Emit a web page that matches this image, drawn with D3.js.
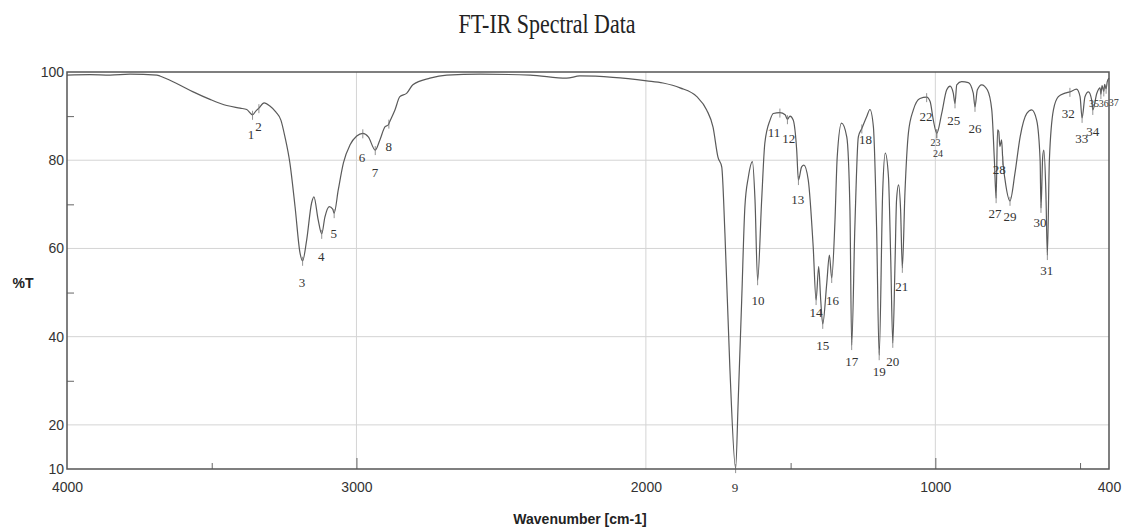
<!DOCTYPE html>
<html>
<head>
<meta charset="utf-8">
<script src="https://cdn.jsdelivr.net/npm/d3@7"></script>
<style>
  body { margin: 0; background: #fff; }
  svg { display: block; }
</style>
</head>
<body>
<div id="chart"></div>
<script>
// spectrum trace (wavenumber cm-1, %T)
const wavenumbers = [4000, 3921, 3851, 3782, 3689, 3679, 3621, 3564, 3506, 3448, 3402, 3379, 3359, 3347, 3337, 3319, 3299, 3278, 3261, 3247, 3230, 3212, 3195, 3186, 3172, 3155, 3147, 3132, 3120, 3109, 3094, 3082, 3077, 3063, 3045, 3022, 2999, 2978, 2959, 2935, 2919, 2901, 2890, 2886, 2867, 2850, 2826, 2805, 2746, 2688, 2573, 2400, 2274, 2228, 2114, 1997, 1941, 1882, 1824, 1790, 1768, 1751, 1738, 1727, 1710, 1690, 1681, 1669, 1658, 1646, 1632, 1623, 1614, 1600, 1589, 1571, 1560, 1537, 1519, 1511, 1502, 1491, 1479, 1473, 1462, 1454, 1439, 1422, 1412, 1403, 1396, 1389, 1375, 1366, 1358, 1347, 1339, 1324, 1306, 1295, 1289, 1278, 1266, 1254, 1237, 1226, 1214, 1203, 1194, 1182, 1173, 1162, 1154, 1147, 1139, 1134, 1127, 1120, 1114, 1105, 1093, 1076, 1053, 1030, 1018, 1007, 995, 978, 961, 949, 938, 932, 926, 909, 886, 869, 863, 855, 840, 820, 805, 796, 790, 785, 781, 777, 771, 767, 759, 742, 725, 707, 684, 667, 650, 638, 635, 629, 625, 618, 613, 606, 592, 575, 552, 535, 512, 500, 493, 483, 471, 460, 456, 442, 431, 428, 424, 418, 415, 410, 406, 400];
const transmittance = [99.3, 99.4, 99.3, 99.5, 99.3, 99.1, 97.4, 95.5, 93.8, 92.4, 91.8, 91.5, 90.3, 91.2, 91.8, 93.0, 92.3, 90.9, 89.1, 85.3, 79.4, 69.4, 59.0, 57.2, 61.9, 70.3, 71.7, 66.4, 63.3, 67.1, 69.5, 68.9, 68.0, 73.2, 79.4, 83.5, 85.5, 86.1, 85.3, 82.3, 84.6, 87.6, 88.0, 88.6, 91.4, 94.4, 95.2, 97.1, 98.6, 99.3, 99.5, 99.3, 98.6, 99.1, 98.8, 98.0, 97.5, 96.4, 94.4, 91.4, 87.5, 80.7, 78.5, 63.5, 33.1, 10.2, 25.6, 48.3, 69.4, 76.2, 79.7, 71.0, 52.8, 71.0, 83.9, 89.1, 90.6, 90.8, 90.3, 89.3, 90.0, 89.1, 82.3, 75.5, 78.5, 78.9, 75.5, 60.4, 48.3, 55.9, 48.3, 42.9, 52.2, 58.5, 53.3, 65.8, 80.7, 88.4, 85.3, 68.7, 38.1, 64.9, 85.3, 87.2, 89.9, 91.5, 87.6, 64.9, 35.8, 72.6, 81.6, 76.3, 57.4, 38.6, 57.4, 71.0, 74.4, 68.7, 55.6, 72.6, 86.2, 91.4, 94.0, 94.3, 93.3, 89.1, 86.1, 90.6, 95.9, 96.8, 95.2, 92.9, 97.1, 97.8, 97.6, 95.2, 92.1, 95.9, 97.1, 95.9, 91.4, 80.0, 71.4, 86.9, 86.5, 83.1, 84.6, 80.0, 75.5, 70.8, 77.0, 85.3, 90.6, 91.4, 89.1, 80.0, 69.2, 80.8, 82.3, 72.6, 58.5, 80.0, 91.4, 94.4, 95.2, 95.5, 96.1, 94.4, 89.6, 94.4, 95.5, 93.7, 91.4, 95.2, 96.4, 95.0, 96.9, 95.6, 97.2, 96.2, 97.8, 98.6];

// numbered peaks: marker wavenumber, and where the number sits
const peakNums = ["1", "2", "3", "4", "5", "6", "7", "8", "9", "10", "11", "12", "13", "14", "15", "16", "17", "18", "19", "20", "21", "22", "23", "24", "25", "26", "27", "28", "29", "30", "31", "32", "33", "34", "35", "36", "37"];
const peakWn = [3359, 3337, 3186, 3120, 3077, 2978, 2935, 2888, 1690, 1614, 1537, 1511, 1473, 1412, 1389, 1358, 1289, 1254, 1194, 1147, 1114, 1030, 995, 995, 932, 863, 790, 767, 742, 635, 613, 535, 493, 456, 428, 418, 410];
const labelWn = [3364, 3338, 3188, 3122, 3078, 2981, 2936, 2888, 1692, 1613, 1557, 1506, 1475, 1412, 1389, 1355, 1289, 1241, 1194, 1147, 1116, 1032, 999, 991, 936, 863, 794, 779, 742, 638, 615, 541, 494, 456, 452, 418, 384];
const labelT = [85.9, 87.6, 52.4, 58.1, 63.3, 80.7, 77.3, 83.2, 5.8, 48.3, 86.4, 85.0, 71.0, 45.4, 38.1, 48.3, 34.3, 84.6, 32.1, 34.3, 51.3, 89.9, 84.0, 81.6, 89.1, 87.2, 68.0, 77.8, 67.2, 65.8, 55.1, 90.6, 85.0, 86.5, 92.8, 92.8, 93.0];
const smallLabels = ["23", "24", "35", "36", "37"];

const yTicks = [10, 20, 40, 60, 80, 100];
const yMinor = [30, 50, 70, 90];
const yGrid = [20, 40, 60, 80];
const xTicks = [4000, 3000, 2000, 1000, 400];
const xMinor = [3500, 1500, 500];
const xGrid = [3000, 2000, 1000];

const W = 1122, H = 527;
const margin = { top: 72, right: 13, bottom: 58, left: 67 };
const width = W - margin.left - margin.right;
const height = H - margin.top - margin.bottom;

const svg = d3.select("#chart").append("svg")
  .attr("width", W)
  .attr("height", H);

const g = svg.append("g")
  .attr("transform", `translate(${margin.left},${margin.top})`);

const x = d3.scaleLinear().domain([4000, 400]).range([0, width]);
const y = d3.scaleLinear().domain([10, 100]).range([height, 0]);

svg.append("text")
  .attr("x", 547)
  .attr("y", 33)
  .attr("text-anchor", "middle")
  .attr("textLength", 177)
  .attr("lengthAdjust", "spacingAndGlyphs")
  .style("font-family", "'Liberation Serif', 'Times New Roman', serif")
  .style("font-size", "27px")
  .style("fill", "#222")
  .text("FT-IR Spectral Data");

// grid
g.selectAll("line.hgrid")
  .data(yGrid)
  .enter()
  .append("line")
  .attr("class", "hgrid")
  .attr("x1", 0)
  .attr("x2", width)
  .attr("y1", d => y(d))
  .attr("y2", d => y(d))
  .attr("stroke", "#d4d4d4")
  .attr("stroke-width", 1);

g.selectAll("line.vgrid")
  .data(xGrid)
  .enter()
  .append("line")
  .attr("class", "vgrid")
  .attr("x1", d => x(d))
  .attr("x2", d => x(d))
  .attr("y1", 0)
  .attr("y2", height)
  .attr("stroke", "#d4d4d4")
  .attr("stroke-width", 1);

// minor ticks pointing inward
const yMinorAxis = g.append("g")
  .call(d3.axisLeft(y).tickValues(yMinor).tickSize(-7).tickFormat(""));
yMinorAxis.select(".domain").remove();
yMinorAxis.selectAll("line").attr("stroke", "#666");

const xMinorAxis = g.append("g")
  .attr("transform", `translate(0,${height})`)
  .call(d3.axisBottom(x).tickValues(xMinor).tickSize(-6).tickFormat(""));
xMinorAxis.select(".domain").remove();
xMinorAxis.selectAll("line").attr("stroke", "#666");

const xMajorIn = g.append("g")
  .attr("transform", `translate(0,${height})`)
  .call(d3.axisBottom(x).tickValues([3000, 1000]).tickSize(-11).tickFormat(""));
xMajorIn.select(".domain").remove();
xMajorIn.selectAll("line").attr("stroke", "#666");

// tick labels
const yAxis = g.append("g")
  .call(d3.axisLeft(y).tickValues(yTicks).tickSize(0).tickPadding(3).tickFormat(d3.format("d")));
yAxis.select(".domain").remove();
yAxis.selectAll("text")
  .style("font-family", "'Liberation Sans', Arial, sans-serif")
  .style("font-size", "14px")
  .style("fill", "#333");

const xAxis = g.append("g")
  .attr("transform", `translate(0,${height})`)
  .call(d3.axisBottom(x).tickValues(xTicks).tickSize(0).tickPadding(13).tickFormat(d3.format("d")));
xAxis.select(".domain").remove();
xAxis.selectAll("text")
  .style("font-family", "'Liberation Sans', Arial, sans-serif")
  .style("font-size", "14px")
  .style("fill", "#333");

// spectrum
const points = wavenumbers.map((w, i) => [w, transmittance[i]]);
const line = d3.line()
  .x(d => x(d[0]))
  .y(d => y(d[1]))
  .curve(d3.curveMonotoneX);

g.append("path")
  .datum(points)
  .attr("d", line)
  .attr("fill", "none")
  .attr("stroke", "#5a5a5a")
  .attr("stroke-width", 1.2);

// peak markers and numbers
const interpT = w => {
  const i = d3.bisector(d => -d[0]).left(points, -w);
  if (i <= 0) return points[0][1];
  if (i >= points.length) return points[points.length - 1][1];
  const a = points[i - 1], b = points[i];
  const t = (w - a[0]) / (b[0] - a[0]);
  return a[1] + t * (b[1] - a[1]);
};

g.selectAll("line.peak")
  .data(peakWn)
  .enter()
  .append("line")
  .attr("class", "peak")
  .attr("x1", d => x(d))
  .attr("x2", d => x(d))
  .attr("y1", d => y(interpT(d)) - 4)
  .attr("y2", d => y(interpT(d)) + 5)
  .attr("stroke", "#777")
  .attr("stroke-width", 0.8);

g.selectAll("text.peak-label")
  .data(peakNums)
  .enter()
  .append("text")
  .attr("class", "peak-label")
  .attr("x", (d, i) => x(labelWn[i]))
  .attr("y", (d, i) => y(labelT[i]))
  .attr("dy", "0.35em")
  .attr("text-anchor", "middle")
  .style("font-family", "'Liberation Serif', 'Times New Roman', serif")
  .style("font-size", d => smallLabels.includes(d) ? "10px" : "13px")
  .style("fill", "#333")
  .text(d => d);

// frame
g.append("rect")
  .attr("x", 0)
  .attr("y", 0)
  .attr("width", width)
  .attr("height", height)
  .attr("fill", "none")
  .attr("stroke", "#555")
  .attr("stroke-width", 1.5);

svg.append("text")
  .attr("x", 23)
  .attr("y", 288)
  .attr("text-anchor", "middle")
  .style("font-family", "'Liberation Sans', Arial, sans-serif")
  .style("font-size", "14px")
  .style("font-weight", "bold")
  .style("fill", "#222")
  .text("%T");

svg.append("text")
  .attr("x", 580)
  .attr("y", 524)
  .attr("text-anchor", "middle")
  .style("font-family", "'Liberation Sans', Arial, sans-serif")
  .style("font-size", "14px")
  .style("font-weight", "bold")
  .style("fill", "#222")
  .text("Wavenumber [cm-1]");
</script>
</body>
</html>
